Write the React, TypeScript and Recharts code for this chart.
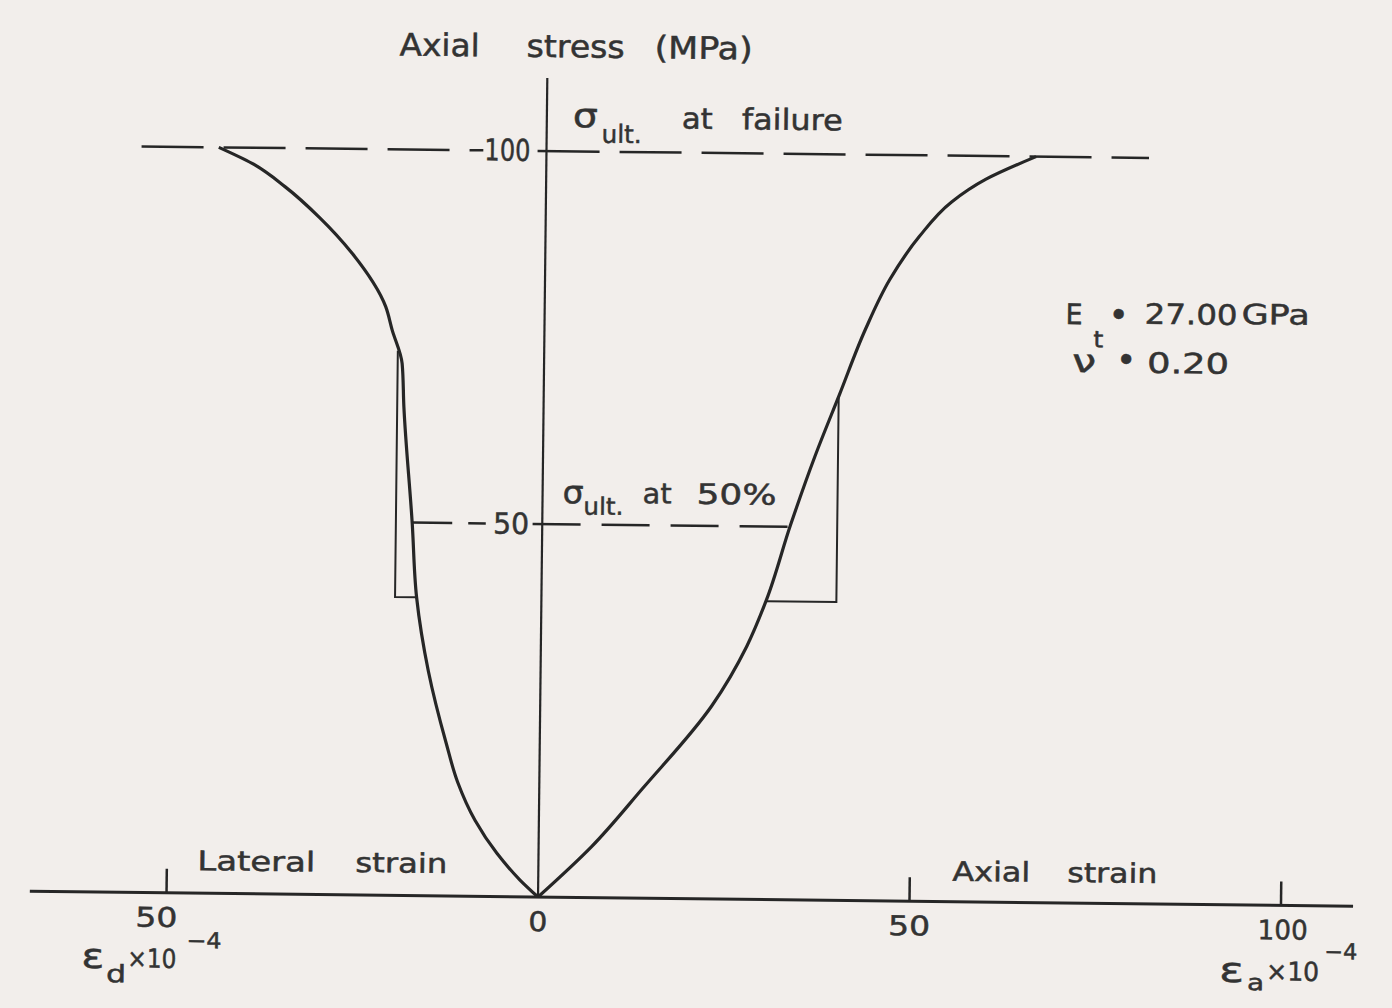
import { LineChart, Line, XAxis, YAxis, ReferenceLine } from "recharts";

const INK = "#262626";
const TEXT = "#333333";
const PAPER = "#f2eeeb";
const FONT = "'DejaVu Sans', sans-serif";

// axial branch: strain (x10^-4) against axial stress (MPa)
const axialStrain = [0, 7.1, 13.9, 23.1, 27.7, 30.3, 33.4, 36.6, 39.8, 43.2, 46.4, 50.3, 54.6, 59.2, 65.9];
const axialStress = [0, 6.8, 14.7, 25.9, 33.9, 40.2, 50.2, 59.5, 67.8, 76.6, 83.3, 89.1, 93.8, 96.9, 100];

// lateral branch, plotted to the left of the stress axis
const lateralStrain = [0, -2.45, -5.6, -8.6, -11.0, -12.6, -15.1, -16.8, -17.5, -18.8, -19.1, -20.5, -21.4, -26.0, -30.5, -35.1, -39.6, -44.1];
const lateralStress = [0, 2.25, 5.8, 10.2, 15.3, 20.5, 30.1, 40.0, 49.9, 65.5, 71.3, 75.8, 78.9, 86.0, 90.8, 94.8, 97.9, 100];

// slope construction boxes
const lateralBoxStrain = [-16.8, -19.7, -19.7];
const lateralBoxStress = [40, 40, 73];
const axialBoxStrain = [30.3, 39.7, 39.7];
const axialBoxStress = [40, 40, 67.5];

// reference levels, broken where the level value is written
const failureStress = 100;
const failureSpans = [
  [-54.5, -8.5],
  [-1.2, 81.1],
];
const halfStress = 50;
const halfSpans = [
  [-17.5, -7.6],
  [-1.3, 33.4],
];
const stressAxisTop = 109.8;

const strainTicks = [-50, 0, 50, 100];

const zip = (xs: number[], ys: number[]) => xs.map((x, i) => ({ x, y: ys[i] }));

const axialCurve = zip(axialStrain, axialStress);
const lateralCurve = zip(lateralStrain, lateralStress);
const lateralBox = zip(lateralBoxStrain, lateralBoxStress);
const axialBox = zip(axialBoxStrain, axialBoxStress);

const tickStyle: Record<number, { dx: number; w: number }> = {
  [-50]: { dx: -10, w: 42 },
  0: { dx: 0, w: 19 },
  50: { dx: 0, w: 42 },
  100: { dx: 2, w: 50 },
};

const StrainTick = (props: any) => {
  const { x, y, payload } = props;
  const v = payload.value as number;
  const s = tickStyle[v] || { dx: 0, w: 30 };
  return (
    <g>
      {v !== 0 && <line x1={x} x2={x} y1={y - 24} y2={y} stroke={INK} strokeWidth={2.5} />}
      <text
        x={x + s.dx}
        y={y + 34}
        textAnchor="middle"
        fontSize={27}
        fontFamily={FONT}
        fill={TEXT}
        stroke={TEXT}
        strokeWidth={0.5}
        textLength={s.w}
        lengthAdjust="spacingAndGlyphs"
      >
        {Math.abs(v)}
      </text>
    </g>
  );
};

const Note = ({ x, y, w, size = 27, anchor = "start", children }: any) => (
  <text
    x={x}
    y={y}
    fontSize={size}
    fontFamily={FONT}
    fill={TEXT}
    stroke={TEXT}
    strokeWidth={0.5}
    textAnchor={anchor}
    textLength={w}
    lengthAdjust="spacingAndGlyphs"
  >
    {children}
  </text>
);

const Annotations = () => (
  <g>
    {/* stress axis title */}
    <Note x={390} y={57} w={80} size={31}>Axial</Note>
    <Note x={517} y={57} w={98} size={31}>stress</Note>
    <Note x={645} y={57} w={98} size={31}>(MPa)</Note>

    {/* failure level */}
    <Note x={564} y={127} w={25} size={34}>σ</Note>
    <Note x={593} y={142} w={40} size={25}>ult.</Note>
    <Note x={673} y={127} w={31} size={29}>at</Note>
    <Note x={733} y={127} w={101} size={29}>failure</Note>
    <Note x={499} y={161} w={46} size={30} anchor="middle">100</Note>

    {/* half level */}
    <Note x={558} y={503} w={21} size={32}>σ</Note>
    <Note x={579} y={514} w={40} size={24}>ult.</Note>
    <Note x={638} y={502} w={29} size={28}>at</Note>
    <Note x={692} y={502} w={80} size={28}>50%</Note>
    <Note x={507} y={534} w={36} size={29} anchor="middle">50</Note>

    {/* moduli */}
    <Note x={1059} y={318} w={17} size={28}>E</Note>
    <Note x={1087} y={341} w={10} size={23}>t</Note>
    <Note x={1112} y={320} size={34} anchor="middle">•</Note>
    <Note x={1138} y={317} w={93} size={28}>27.00</Note>
    <Note x={1235} y={316} w={68} size={28}>GPa</Note>
    <Note x={1066} y={366} w={24} size={32}>ν</Note>
    <Note x={1120} y={365} size={34} anchor="middle">•</Note>
    <Note x={1141} y={366} w={82} size={28}>0.20</Note>

    {/* branch names */}
    <Note x={197} y={874} w={118}>Lateral</Note>
    <Note x={355} y={874} w={92}>strain</Note>
    <Note x={952} y={876} w={78}>Axial</Note>
    <Note x={1067} y={876} w={90}>strain</Note>

    {/* strain units */}
    <Note x={82} y={973} w={23} size={34}>ε</Note>
    <Note x={107} y={987} w={20} size={24}>d</Note>
    <Note x={128} y={972} w={49} size={26}>×10</Note>
    <Note x={187} y={952} w={35} size={22}>−4</Note>
    <Note x={1220} y={974} w={25} size={34}>ε</Note>
    <Note x={1248} y={982} w={17} size={22}>a</Note>
    <Note x={1267} y={972} w={53} size={26}>×10</Note>
    <Note x={1325} y={950} w={33} size={22}>−4</Note>
  </g>
);

export default function App() {
  return (
    <div
      style={{
        position: "absolute",
        left: 0,
        top: 0,
        width: 1392,
        height: 1008,
        background: PAPER,
        overflow: "hidden",
      }}
    >
      <div style={{ transform: "rotate(0.65deg)", transformOrigin: "538px 897px" }}>
        <LineChart
          width={1392}
          height={1008}
          margin={{ top: 39.1, right: 38.9, bottom: 51, left: 29.8 }}
        >
          <XAxis
            dataKey="x"
            type="number"
            domain={[-68.4, 109.7]}
            ticks={strainTicks}
            interval={0}
            allowDataOverflow
            height={60}
            axisLine={{ stroke: INK, strokeWidth: 3 }}
            tickLine={false}
            tickSize={0}
            tickMargin={0}
            tick={<StrainTick />}
          />
          <YAxis type="number" domain={[0, 115]} allowDataOverflow hide />

          <ReferenceLine
            segment={[{ x: 0, y: 0 }, { x: 0, y: stressAxisTop }]}
            stroke={INK}
            strokeWidth={2.2}
            ifOverflow="visible"
          />
          {failureSpans.map(([a, b], i) => (
            <ReferenceLine
              key={`f${i}`}
              segment={[{ x: a, y: failureStress }, { x: b, y: failureStress }]}
              stroke={INK}
              strokeWidth={2.5}
              strokeDasharray="62 20"
              ifOverflow="visible"
            />
          ))}
          {halfSpans.map(([a, b], i) => (
            <ReferenceLine
              key={`h${i}`}
              segment={[{ x: a, y: halfStress }, { x: b, y: halfStress }]}
              stroke={INK}
              strokeWidth={2.5}
              strokeDasharray={i === 0 ? "40 16" : "48 21"}
              ifOverflow="visible"
            />
          ))}

          <Line data={lateralBox} dataKey="y" type="linear" stroke={INK} strokeWidth={2} dot={false} isAnimationActive={false} />
          <Line data={axialBox} dataKey="y" type="linear" stroke={INK} strokeWidth={2} dot={false} isAnimationActive={false} />
          <Line data={lateralCurve} dataKey="y" type="monotoneY" stroke={INK} strokeWidth={3.2} dot={false} isAnimationActive={false} />
          <Line data={axialCurve} dataKey="y" type="monotoneY" stroke={INK} strokeWidth={3.2} dot={false} isAnimationActive={false} />

          <Annotations />
        </LineChart>
      </div>
    </div>
  );
}
